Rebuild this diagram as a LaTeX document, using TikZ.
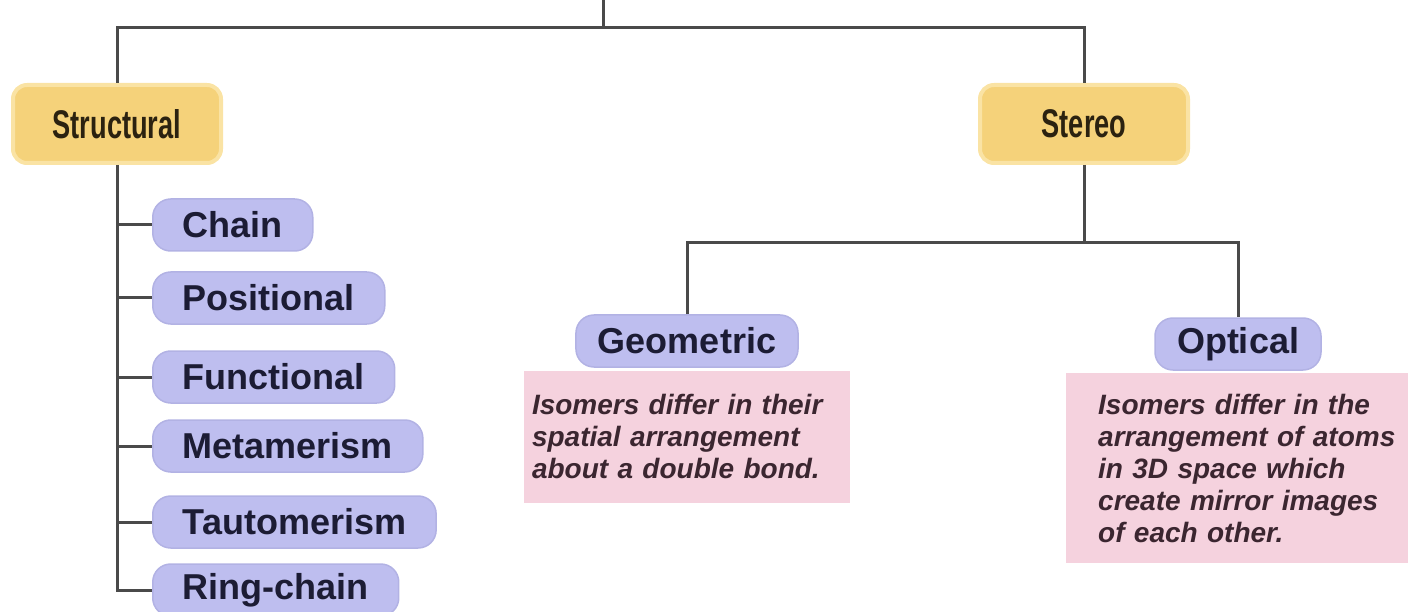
\documentclass[tikz,border=0pt]{standalone}
\usepackage{fontspec}
\setmainfont{Liberation Sans}
\usetikzlibrary{positioning}
\definecolor{catyellow}{HTML}{F5D27A}
\definecolor{catglow}{HTML}{FAE3A4}
\definecolor{toptext}{HTML}{2B2210}
\definecolor{lavfill}{HTML}{BEBEEF}
\definecolor{lavedge}{HTML}{B2B2E4}
\definecolor{subtext}{HTML}{1C1C34}
\definecolor{notepink}{HTML}{F5D2DE}
\definecolor{notetext}{HTML}{3B2630}
\definecolor{linkgrey}{HTML}{4A4A4A}
\newcommand{\squeezed}[1]{\scalebox{0.68}[1]{#1}}

\begin{document}
\begin{tikzpicture}[x=1pt,y=-1pt,
  topbox/.style={fill=catyellow,draw=catglow,line width=4pt,rounded corners=14pt,
    minimum width=208pt,minimum height=78pt,inner sep=0pt,
    font=\fontsize{40}{44}\selectfont\bfseries,text=toptext},
  subbox/.style={fill=lavfill,draw=lavedge,line width=1.5pt,rounded corners=18pt,
    minimum height=52pt,inner xsep=30pt,inner ysep=0pt,
    font=\fontsize{36}{40}\selectfont\bfseries,text=subtext},
  notebox/.style={fill=notepink,align=left,inner ysep=12pt,
    font=\fontsize{28}{32}\selectfont\bfseries\itshape,text=notetext},
  link/.style={draw=linkgrey,line width=3pt}]
\useasboundingbox (0,0) rectangle (1408,612);
% ---- top level ----
\coordinate (root) at (603,0);
\coordinate (split) at (603,28);
\node[topbox] (structural) at (117,124) {\squeezed{Structural}};
\node[topbox] (stereo) at (1084,124) {\squeezed{Stereo}};
\draw[link] (root) -- (split);
\draw[link] (structural.north) |- (split) -| (stereo.north);
% ---- structural branch ----
\foreach \name/\lbl/\yy in {chain/Chain/225, positional/Positional/298,
    functional/Functional/377, metamerism/Metamerism/446,
    tautomerism/Tautomerism/522, ringchain/Ring-chain/590} {
  \node[subbox,anchor=west] (\name) at (152,\yy) {\lbl};
  \draw[link] (structural.south |- \name.west) -- (\name.west);}
\draw[link] (structural.south) |- (ringchain.west);
% ---- stereo branch ----
\coordinate (stsplit) at (1084,243);
\node[subbox,inner xsep=22pt] (geometric) at (687,341) {Geometric};
\node[subbox,inner xsep=22pt] (optical) at (1238,344) {Optical};
\draw[link] (stereo.south) -- (stsplit);
\draw[link] (geometric.north) |- (stsplit) -| (optical.north);
% ---- notes ----
\node[notebox,text width=310pt,inner xsep=8pt,minimum height=132pt,below=3pt of geometric] (geonote)
  {Isomers differ in their\\spatial arrangement\\about a double bond.};
\node[notebox,text width=320pt,inner xsep=32pt,minimum height=190pt,anchor=north west] (optnote) at (1066,373)
  {Isomers differ in the\\arrangement of atoms\\in 3D space which\\create mirror images\\of each other.};
\end{tikzpicture}
\end{document}
